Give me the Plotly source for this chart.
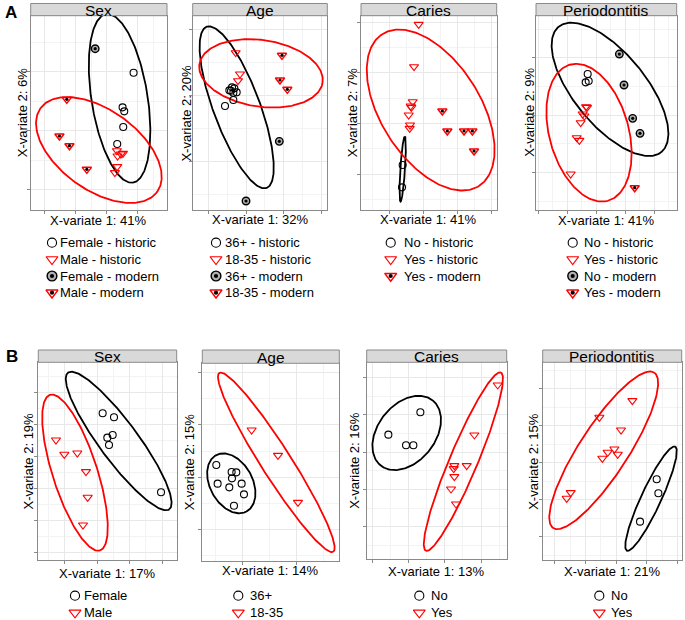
import numpy as np
import plotly.graph_objects as go

W, H = 685, 620

# ---------------- data (component scores) ----------------
# A – Sex
a1_fem_hist_x = [0.80, 0.47, 0.52, 0.49, 0.31]
a1_fem_hist_y = [1.74, 0.70, 0.58, 0.11, -0.40]
a1_fem_mod_x = [-0.35]
a1_fem_mod_y = [2.46]
a1_male_hist_x = [0.30, 0.42, 0.32, 0.48, 0.31, 0.24]
a1_male_hist_y = [-0.60, -0.70, -0.76, -0.68, -1.08, -1.26]
a1_male_mod_x = [-1.20, -1.42, -1.12, -0.60]
a1_male_mod_y = [0.94, -0.16, -0.45, -1.16]
a1_ell_female = [0.38, 0.97, 2.56, 0.84, -81.0]   # cx, cy, semi-major, semi-minor, angle
a1_ell_male = [-0.24, -0.58, 2.15, 1.20, -35.7]

# A – Age
a2_old_hist_x = [-0.50, -0.42, -0.35, -0.28, -0.38, -0.45, -0.38, -0.63]
a2_old_hist_y = [0.14, 0.23, 0.20, 0.08, 0.07, 0.13, -0.15, -0.33]
a2_old_mod_x = [1.00, 0.00]
a2_old_mod_y = [-1.39, -3.18]
a2_young_hist_x = [-0.31, -0.18, -0.24]
a2_young_hist_y = [1.27, 0.63, 0.43]
a2_young_mod_x = [1.08, 1.02, 1.24]
a2_young_mod_y = [1.19, 0.45, 0.17]
a2_ell_old = [-0.28, -0.37, 2.58, 0.70, -69.6]
a2_ell_young = [0.45, 0.65, 1.87, 1.00, -8.5]

# A – Caries
a3_no_hist_x = [-0.62, -0.64]
a3_no_hist_y = [-1.25, -1.92]
a3_yes_hist_x = [-0.14, -0.28, -0.32, -0.38, -0.36, -0.44, -0.40, -0.41]
a3_yes_hist_y = [2.97, 1.70, 0.65, 0.52, 0.48, 0.25, -0.05, -0.15]
a3_yes_mod_x = [0.57, 0.72, 1.22, 1.47, 1.52]
a3_yes_mod_y = [0.37, -0.23, -0.23, -0.23, -0.83]
a3_ell_no = [-0.62, -1.37, 0.98, 0.07, 86.2]
a3_ell_yes = [0.22, 0.40, 2.70, 1.49, -57.6]

# A – Periodontitis
a4_no_hist_x = [-0.25, -0.31, -0.22]
a4_no_hist_y = [1.23, 0.98, 1.02]
a4_no_mod_x = [0.70, 0.84, 1.10, 1.32]
a4_no_mod_y = [1.83, 0.90, -0.10, -0.55]
a4_yes_hist_x = [-0.30, -0.27, -0.35, -0.40, -0.46, -0.58, -0.50, -0.76]
a4_yes_hist_y = [0.25, 0.23, -0.03, 0.03, -0.23, -0.68, -0.76, -1.77]
a4_yes_mod_x = [1.16]
a4_yes_mod_y = [-2.18]
a4_ell_no = [0.42, 0.77, 2.43, 1.08, -50.7]
a4_ell_yes = [-0.21, -0.53, 2.12, 1.19, -74.5]

# B – Sex
b1_fem_x = [0.16, 0.50, 0.30, 0.46, 0.35, 1.91]
b1_fem_y = [1.30, 1.18, 0.57, 0.65, 0.35, -1.07]
b1_male_x = [-1.24, -0.99, -0.60, -0.34, -0.29, -0.43]
b1_male_y = [0.50, 0.07, 0.11, -0.45, -1.22, -2.05]
b1_ell_female = [0.64, 0.47, 2.55, 0.58, -53.5]
b1_ell_male = [-0.67, -0.48, 2.45, 0.67, -72.2]

# B – Age
b2_old_x = [-0.79, -0.33, -0.19, -0.32, -0.75, -0.40, -0.03, 0.04, -0.26]
b2_old_y = [0.37, 0.16, 0.15, -0.03, -0.19, -0.30, -0.19, -0.51, -0.85]
b2_young_x = [0.27, 1.06, 1.66]
b2_young_y = [1.42, 0.66, -0.75]
b2_ell_old = [-0.34, -0.18, 0.96, 0.64, -61.6]
b2_ell_young = [1.01, 0.45, 3.18, 0.45, -57.5]

# B – Caries
b3_no_x = [-0.60, -0.07, 0.15, 0.36]
b3_no_y = [0.53, 0.21, 0.21, 1.20]
b3_yes_x = [2.68, 1.98, 1.75, 1.38, 1.36, 1.38, 1.28, 1.43]
b3_yes_y = [2.02, 0.52, -0.40, -0.40, -0.49, -0.73, -1.10, -1.55]
b3_ell_no = [-0.05, 0.58, 1.25, 0.86, 51.4]
b3_ell_yes = [1.65, -0.28, 2.90, 0.42, 67.2]

# B – Periodontitis
b4_no_x = [1.22, 1.27, 0.72]
b4_no_y = [-0.50, -0.92, -1.77]
b4_yes_x = [0.49, -0.50, 0.15, -0.05, -0.25, -0.41, 0.05, -1.36, -1.48]
b4_yes_y = [1.86, 1.36, 0.98, 0.41, 0.31, 0.13, 0.25, -0.90, -1.07]
b4_ell_no = [1.05, -1.08, 1.72, 0.30, 65.1]
b4_ell_yes = [-0.37, 0.37, 2.78, 0.73, 57.0]

# ---------------- panel definitions ----------------
LEG_A = [242.7, 259.3, 276.0, 292.7]
LEG_B = [595.7, 612.7]

panels = [
    dict(title="Sex", box=(30.7, 15.7, 167.0, 210.0), strip=3.5,
         xr=(-2.28, 1.80), yr=(-2.38, 3.45), xd=0.93, yd=1.77,
         xlab="X-variate 1: 41%", ylab="X-variate 2: 6%", ylx=23.3, xly=220,
         groups=[(a1_fem_hist_x, a1_fem_hist_y, "circ"), (a1_fem_mod_x, a1_fem_mod_y, "circ_mod"),
                 (a1_male_hist_x, a1_male_hist_y, "tri"), (a1_male_mod_x, a1_male_mod_y, "tri_mod")],
         ells=[(a1_ell_female, "black"), (a1_ell_male, "red")],
         leg=dict(mx=52.0, tx=58.3, rows=LEG_A,
                  items=[("circ", "Female - historic"), ("tri", "Male - historic"),
                         ("circ_mod", "Female - modern"), ("tri_mod", "Male - modern")])),
    dict(title="Age", box=(192.7, 15.7, 327.3, 210.0), strip=3.5,
         xr=(-1.60, 2.44), yr=(-3.45, 2.38), xd=1.13, yd=1.98,
         xlab="X-variate 1: 32%", ylab="X-variate 2: 20%", ylx=186.7, xly=219,
         groups=[(a2_old_hist_x, a2_old_hist_y, "circ"), (a2_old_mod_x, a2_old_mod_y, "circ_mod"),
                 (a2_young_hist_x, a2_young_hist_y, "tri"), (a2_young_mod_x, a2_young_mod_y, "tri_mod")],
         ells=[(a2_ell_old, "black"), (a2_ell_young, "red")],
         leg=dict(mx=216.0, tx=222.7, rows=LEG_A,
                  items=[("circ", "36+ - historic"), ("tri", "18-35 - historic"),
                         ("circ_mod", "36+ - modern"), ("tri_mod", "18-35 - modern")])),
    dict(title="Caries", box=(361.0, 15.7, 496.7, 210.0), strip=3.5,
         xr=(-1.87, 2.20), yr=(-2.60, 3.23), xd=1.02, yd=1.52,
         xlab="X-variate 1: 41%", ylab="X-variate 2: 7%", ylx=353.3, xly=219,
         groups=[(a3_no_hist_x, a3_no_hist_y, "circ"),
                 (a3_yes_hist_x, a3_yes_hist_y, "tri"), (a3_yes_mod_x, a3_yes_mod_y, "tri_mod")],
         ells=[(a3_ell_no, "black"), (a3_ell_yes, "red")],
         leg=dict(mx=390.7, tx=401.7, rows=LEG_A,
                  items=[("circ", "No - historic"), ("tri", "Yes - historic"), ("tri_mod", "Yes - modern")])),
    dict(title="Periodontitis", box=(536.0, 15.7, 676.7, 210.0), strip=3.5,
         xr=(-1.80, 2.42), yr=(-2.85, 2.98), xd=0.87, yd=1.72,
         xlab="X-variate 1: 41%", ylab="X-variate 2: 9%", ylx=530.0, xly=220,
         groups=[(a4_no_hist_x, a4_no_hist_y, "circ"), (a4_no_mod_x, a4_no_mod_y, "circ_mod"),
                 (a4_yes_hist_x, a4_yes_hist_y, "tri"), (a4_yes_mod_x, a4_yes_mod_y, "tri_mod")],
         ells=[(a4_ell_no, "black"), (a4_ell_yes, "red")],
         leg=dict(mx=572.7, tx=581.7, rows=LEG_A,
                  items=[("circ", "No - historic"), ("tri", "Yes - historic"),
                         ("circ_mod", "No - modern"), ("tri_mod", "Yes - modern")])),
    dict(title="Sex", box=(38.3, 362.3, 176.7, 560.0), strip=350.0,
         xr=(-1.77, 2.38), yr=(-3.10, 2.83), xd=0.97, yd=0.96,
         xlab="X-variate 1: 17%", ylab="X-variate 2: 19%", ylx=28.3, xly=573,
         groups=[(b1_fem_x, b1_fem_y, "circ"), (b1_male_x, b1_male_y, "tri")],
         ells=[(b1_ell_female, "black"), (b1_ell_male, "red")],
         leg=dict(mx=75.0, tx=81.7, rows=LEG_B, items=[("circ", "Female"), ("tri", "Male")])),
    dict(title="Age", box=(202.3, 363.3, 339.3, 560.7), strip=350.0,
         xr=(-1.21, 2.90), yr=(-2.50, 3.42), xd=1.62, yd=1.57,
         xlab="X-variate 1: 14%", ylab="X-variate 2: 15%", ylx=189.3, xly=570.5,
         groups=[(b2_old_x, b2_old_y, "circ"), (b2_young_x, b2_young_y, "tri")],
         ells=[(b2_ell_old, "black"), (b2_ell_young, "red")],
         leg=dict(mx=238.3, tx=248.3, rows=LEG_B, items=[("circ", "36+"), ("tri", "18-35")])),
    dict(title="Caries", box=(366.7, 362.3, 506.7, 559.3), strip=350.0,
         xr=(-1.25, 2.95), yr=(-3.21, 2.70), xd=1.09, yd=1.12,
         xlab="X-variate 1: 13%", ylab="X-variate 2: 16%", ylx=355.0, xly=571,
         groups=[(b3_no_x, b3_no_y, "circ"), (b3_yes_x, b3_yes_y, "tri")],
         ells=[(b3_ell_no, "black"), (b3_ell_yes, "red")],
         leg=dict(mx=419.3, tx=429.3, rows=LEG_B, items=[("circ", "No"), ("tri", "Yes")])),
    dict(title="Periodontitis", box=(542.7, 362.3, 681.7, 560.0), strip=350.0,
         xr=(-2.20, 1.97), yr=(-2.92, 3.01), xd=0.92, yd=1.11,
         xlab="X-variate 1: 21%", ylab="X-variate 2: 15%", ylx=532.7, xly=571.5,
         groups=[(b4_no_x, b4_no_y, "circ"), (b4_yes_x, b4_yes_y, "tri")],
         ells=[(b4_ell_no, "black"), (b4_ell_yes, "red")],
         leg=dict(mx=599.3, tx=608.7, rows=LEG_B, items=[("circ", "No"), ("tri", "Yes")])),
]

FONT = "Arial, Liberation Sans, sans-serif"
BORDER = "#8a8a8a"


def marker_traces(x, y, kind, xa, ya, big=False):
    s = 1.3 if big else 1.0
    out = []
    if kind in ("circ", "circ_mod"):
        if kind == "circ":
            m = dict(symbol="circle-open", size=7 * s, color="black", line=dict(width=1.1, color="black"))
        else:
            m = dict(symbol="circle", size=7.5 * s, color="#b0b0b0", line=dict(width=1.4, color="black"))
    else:
        m = dict(symbol="triangle-down-open", size=8 * s, color="red",
                 line=dict(width=1.5 if kind == "tri_mod" else 1.1, color="red"))
    out.append(go.Scatter(x=x, y=y, mode="markers", marker=m, xaxis=xa, yaxis=ya,
                          showlegend=False, hoverinfo="skip", cliponaxis=False))
    if kind.endswith("_mod"):
        out.append(go.Scatter(x=x, y=y, mode="markers",
                              marker=dict(symbol="circle", size=3.2 * s, color="black"),
                              xaxis=xa, yaxis=ya, showlegend=False, hoverinfo="skip", cliponaxis=False))
    return out


def ellipse_xy(p, n=240):
    cx, cy, a, b, ang = p
    t = np.linspace(0, 2 * np.pi, n)
    th = np.deg2rad(ang)
    x = cx + a * np.cos(t) * np.cos(th) - b * np.sin(t) * np.sin(th)
    y = cy + a * np.cos(t) * np.sin(th) + b * np.sin(t) * np.cos(th)
    return x, y


fig = go.Figure()
layout = dict(width=W, height=H, margin=dict(l=0, r=0, t=0, b=0),
              paper_bgcolor="white", plot_bgcolor="rgba(0,0,0,0)", showlegend=False,
              font=dict(family=FONT, color="black"))
shapes, annotations = [], []

for i, p in enumerate(panels):
    k = i + 1
    xa, ya = f"x{k}", f"y{k}"
    x0, y0, x1, y1 = p["box"]
    common = dict(showticklabels=False, ticks="outside", ticklen=3, tickcolor=BORDER, tickwidth=1,
                  showline=True, linecolor=BORDER, linewidth=1, mirror=True, zeroline=False,
                  showgrid=True, gridcolor="#e8e8e8", gridwidth=1, tick0=0, fixedrange=True)
    layout[f"xaxis{k}"] = dict(domain=[x0 / W, x1 / W], range=list(p["xr"]), anchor=ya, dtick=p["xd"],
                               minor=dict(dtick=p["xd"] / 2, tick0=0, showgrid=True,
                                          gridcolor="#f3f3f3", gridwidth=0.6, ticks=""), **common)
    layout[f"yaxis{k}"] = dict(domain=[1 - y1 / H, 1 - y0 / H], range=list(p["yr"]), anchor=xa, dtick=p["yd"],
                               minor=dict(dtick=p["yd"] / 2, tick0=0, showgrid=True,
                                          gridcolor="#f3f3f3", gridwidth=0.6, ticks=""), **common)
    for ell, col in p["ells"]:
        ex, ey = ellipse_xy(ell)
        fig.add_trace(go.Scatter(x=ex, y=ey, mode="lines", line=dict(color=col, width=1.8),
                                 xaxis=xa, yaxis=ya, showlegend=False, hoverinfo="skip"))
    for gx, gy, kind in p["groups"]:
        for tr in marker_traces(gx, gy, kind, xa, ya):
            fig.add_trace(tr)
    shapes.append(dict(type="rect", xref="paper", yref="paper", x0=x0 / W, x1=x1 / W,
                       y0=1 - y0 / H, y1=1 - p["strip"] / H, fillcolor="#d9d9d9",
                       line=dict(color=BORDER, width=1), layer="above"))
    annotations.append(dict(text=p["title"], xref="paper", yref="paper", x=(x0 + x1) / 2 / W,
                            y=1 - ((y0 + p["strip"]) / 2 + 0.5) / H, xanchor="center", yanchor="middle",
                            showarrow=False, font=dict(size=15.5, family=FONT, color="black")))
    annotations.append(dict(text=p["xlab"], xref="paper", yref="paper", x=(x0 + x1) / 2 / W,
                            y=1 - p["xly"] / H, xanchor="center", yanchor="middle", showarrow=False,
                            font=dict(size=13, family=FONT)))
    annotations.append(dict(text=p["ylab"], xref="paper", yref="paper", x=p["ylx"] / W,
                            y=1 - (y0 + y1) / 2 / H, xanchor="center", yanchor="middle", showarrow=False,
                            textangle=-90, font=dict(size=13, family=FONT)))
    lg = p["leg"]
    for row, (kind, label) in zip(lg["rows"], lg["items"]):
        for tr in marker_traces([lg["mx"]], [row], kind, "x9", "y9", big=True):
            fig.add_trace(tr)
        annotations.append(dict(text=label, xref="paper", yref="paper", x=lg["tx"] / W, y=1 - row / H,
                                xanchor="left", yanchor="middle", showarrow=False,
                                font=dict(size=13, family=FONT)))

layout["xaxis9"] = dict(domain=[0, 1], range=[0, W], visible=False, anchor="y9", fixedrange=True)
layout["yaxis9"] = dict(domain=[0, 1], range=[H, 0], visible=False, anchor="x9", fixedrange=True)

annotations.append(dict(text="<b>A</b>", xref="paper", yref="paper", x=3 / W, y=1 - 12 / H,
                        xanchor="left", yanchor="middle", showarrow=False, font=dict(size=17, family=FONT)))
annotations.append(dict(text="<b>B</b>", xref="paper", yref="paper", x=4 / W, y=1 - 356 / H,
                        xanchor="left", yanchor="middle", showarrow=False, font=dict(size=17, family=FONT)))

layout["shapes"] = shapes
layout["annotations"] = annotations
fig.update_layout(**layout)
fig.write_html("out.html", config={"displayModeBar": False},
               post_script="document.body.style.margin='0';document.body.style.overflow='hidden';")
